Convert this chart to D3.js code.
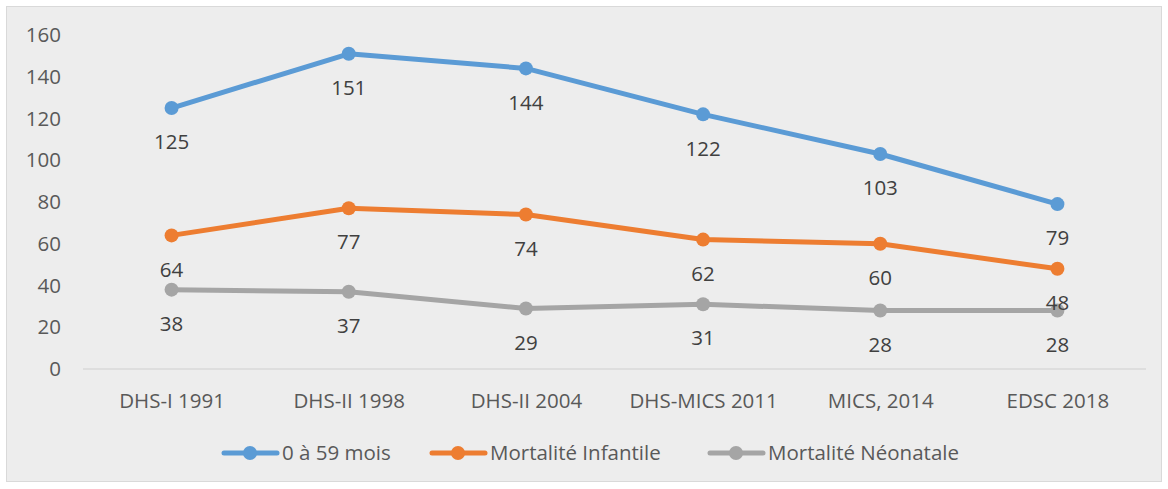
<!DOCTYPE html>
<html>
<head>
<meta charset="utf-8">
<script src="https://cdn.jsdelivr.net/npm/d3@7"></script>
<style>
  body { margin: 0; background: #fff; }
  svg { font-family: "Open Sans", sans-serif; }
</style>
</head>
<body>
<div id="chart"></div>
<script>
const categories = ["DHS-I 1991", "DHS-II 1998", "DHS-II 2004", "DHS-MICS 2011", "MICS, 2014", "EDSC 2018"];
const seriesNames = ["0 à 59 mois", "Mortalité Infantile", "Mortalité Néonatale"];
const under5 = [125, 151, 144, 122, 103, 79];
const infant = [64, 77, 74, 62, 60, 48];
const neonatal = [38, 37, 29, 31, 28, 28];
const yTicks = [0, 20, 40, 60, 80, 100, 120, 140, 160];
const colors = ["#5b9bd5", "#ed7d31", "#a5a5a5"];

const w = 1168, h = 489;
const fontSize = "20.5px";
const series = [under5, infant, neonatal];

const svg = d3.select("#chart").append("svg")
    .attr("width", w)
    .attr("height", h);

svg.append("rect")
    .attr("x", 6.5).attr("y", 6.5)
    .attr("width", 1155).attr("height", 475)
    .attr("fill", "#ededed")
    .attr("stroke", "#d9d9d9")
    .attr("stroke-width", 1);

const x = d3.scalePoint()
    .domain(categories)
    .range([83, 1146])
    .padding(0.5);

const y = d3.scaleLinear()
    .domain([0, 160])
    .range([369, 35]);

// y axis labels
const yAxis = svg.append("g")
    .attr("transform", "translate(61,0)")
    .call(d3.axisLeft(y).tickValues(yTicks).tickSize(0).tickPadding(0));
yAxis.select(".domain").remove();
yAxis.selectAll("text")
    .attr("fill", "#595959")
    .style("font-size", fontSize)
    .style("font-family", "'Open Sans', sans-serif");

// baseline
svg.append("line")
    .attr("x1", 83).attr("x2", 1146)
    .attr("y1", y(0)).attr("y2", y(0))
    .attr("stroke", "#d9d9d9")
    .attr("stroke-width", 1.5);

const xAxis = svg.append("g")
    .attr("transform", "translate(0," + y(0) + ")")
    .call(d3.axisBottom(x).tickSize(0).tickPadding(0));
xAxis.select(".domain").remove();
xAxis.selectAll("text")
    .attr("y", 32)
    .attr("dy", "0.35em")
    .attr("fill", "#595959")
    .style("font-size", fontSize)
    .style("font-family", "'Open Sans', sans-serif");

const line = d3.line()
    .x((d, i) => x(categories[i]))
    .y(d => y(d));

series.forEach((vals, s) => {
    const g = svg.append("g");
    g.append("path")
        .datum(vals)
        .attr("d", line)
        .attr("fill", "none")
        .attr("stroke", colors[s])
        .attr("stroke-width", 5)
        .attr("stroke-linejoin", "round")
        .attr("stroke-linecap", "round");
    g.selectAll("circle")
        .data(vals)
        .enter()
        .append("circle")
        .attr("cx", (d, i) => x(categories[i]))
        .attr("cy", d => y(d))
        .attr("r", 7)
        .attr("fill", colors[s]);
});

series.forEach((vals, s) => {
    svg.append("g").selectAll("text")
        .data(vals)
        .enter()
        .append("text")
        .attr("x", (d, i) => x(categories[i]))
        .attr("y", d => y(d) + 34)
        .attr("dy", "0.35em")
        .attr("text-anchor", "middle")
        .attr("fill", "#404040")
        .style("font-size", fontSize)
        .text(d => d);
});

// legend
const legendX = [222, 430, 708];
const legend = svg.append("g");
seriesNames.forEach((name, s) => {
    const lg = legend.append("g").attr("transform", "translate(" + legendX[s] + ",453)");
    lg.append("line")
        .attr("x1", 2).attr("x2", 55)
        .attr("stroke", colors[s])
        .attr("stroke-width", 5)
        .attr("stroke-linecap", "round");
    lg.append("circle")
        .attr("cx", 28).attr("r", 7)
        .attr("fill", colors[s]);
    lg.append("text")
        .attr("x", 60)
        .attr("dy", "0.35em")
        .attr("fill", "#595959")
        .style("font-size", fontSize)
        .text(name);
});
</script>
</body>
</html>
